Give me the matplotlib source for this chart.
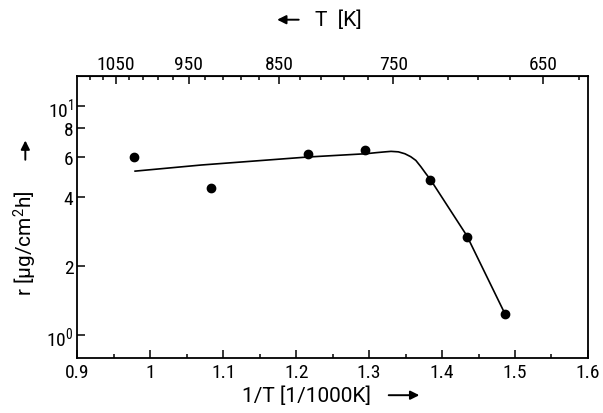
import matplotlib
matplotlib.use("Agg")
import matplotlib.pyplot as plt
import numpy as np

# data (x = 1/T in 1/1000K, r in ug/cm2h)
inv_T = [0.978, 1.083, 1.2155, 1.2945, 1.384, 1.4336, 1.4866]
rate = [5.98, 4.36, 6.18, 6.44, 4.77, 2.69, 1.23]

# fitted curve
curve_x = [0.979, 1.07, 1.2155, 1.295, 1.31, 1.322, 1.330, 1.340, 1.349, 1.357,
           1.364, 1.371, 1.378, 1.384, 1.434, 1.4866]
curve_r = [5.19, 5.52, 5.98, 6.18, 6.25, 6.30, 6.33, 6.30, 6.18, 6.00,
           5.78, 5.42, 5.05, 4.77, 2.71, 1.23]

x_ticks = [0.9, 1.0, 1.1, 1.2, 1.3, 1.4, 1.5, 1.6]
x_ticklabels = ["0.9", "1", "1.1", "1.2", "1.3", "1.4", "1.5", "1.6"]
y_ticks = [1, 2, 4, 6, 8, 10]
y_ticklabels = ["10$^0$", "2", "4", "6", "8", "10$^1$"]
T_major = [1050, 950, 850, 750, 650]
T_minor = [1090, 1070, 1030, 1010, 990, 970, 930, 910, 890, 870,
           830, 810, 790, 770, 730, 710, 690, 670, 630]

fam = "Roboto Condensed"
lab_fam = ["Roboto", "DejaVu Sans"]
plt.rcParams['font.family'] = [fam, 'DejaVu Sans']
plt.rcParams['mathtext.fontset'] = 'custom'
plt.rcParams['mathtext.rm'] = fam
plt.rcParams['mathtext.it'] = fam
plt.rcParams['mathtext.default'] = 'regular'

fs = 14
lfs = 15
fig = plt.figure(figsize=(6.03, 4.14), dpi=100)
ax = fig.add_axes([0.1285, 0.133, 0.975 - 0.1285, 0.814 - 0.133])

ax.plot(curve_x, curve_r, color='black', lw=1.2)
ax.plot(inv_T, rate, 'o', color='black', ms=6)

ax.set_yscale('log')
ax.set_xlim(0.9, 1.6)
ax.set_ylim(0.794, 13.5)

ax.set_xticks(x_ticks)
ax.set_xticklabels(x_ticklabels)
ax.set_xticks(np.arange(0.95, 1.6, 0.1), minor=True)
ax.set_yticks(y_ticks)
ax.set_yticklabels(y_ticklabels)
ax.yaxis.set_minor_locator(matplotlib.ticker.NullLocator())
ax.tick_params(axis='both', which='both', direction='in', labelsize=fs, width=1.1)
ax.tick_params(axis='x', which='major', length=6, pad=4)
ax.tick_params(axis='x', which='minor', length=3)
ax.tick_params(axis='y', which='major', length=6, pad=3)

for s in ax.spines.values():
    s.set_linewidth(1.3)

top = ax.secondary_xaxis('top', functions=(lambda x: 1000.0 / np.asarray(x, dtype=float),
                                           lambda t: 1000.0 / np.asarray(t, dtype=float)))
top.set_xticks(T_major)
top.set_xticklabels([str(t) for t in T_major])
top.set_xticks(T_minor, minor=True)
top.tick_params(axis='x', which='both', direction='in', labelsize=fs, width=1.1)
top.tick_params(axis='x', which='major', length=6, pad=2)
top.tick_params(axis='x', which='minor', length=3)

# bottom label with arrow
fig.text(0.508, 0.043, "1/T [1/1000K]", ha='center', va='center', fontsize=lfs,
         family=lab_fam)
ax.annotate("", xy=(0.700, 0.043), xytext=(0.640, 0.043), xycoords='figure fraction',
            arrowprops=dict(arrowstyle='-|>', color='black', lw=1.4, mutation_scale=13))

# top label with arrow
fig.text(0.561, 0.950, "T  [K]", ha='center', va='center', fontsize=lfs, family=lab_fam)
ax.annotate("", xy=(0.455, 0.950), xytext=(0.500, 0.950), xycoords='figure fraction',
            arrowprops=dict(arrowstyle='-|>', color='black', lw=1.4, mutation_scale=13))

# left label with arrow
fig.text(0.042, 0.413, "r [µg/cm$^2$h]", ha='center', va='center', rotation=90,
         fontsize=lfs, family=lab_fam, math_fontfamily='dejavusans')
ax.annotate("", xy=(0.042, 0.665), xytext=(0.042, 0.605), xycoords='figure fraction',
            arrowprops=dict(arrowstyle='-|>', color='black', lw=1.4, mutation_scale=13))

fig.savefig("out.png", dpi=100)
